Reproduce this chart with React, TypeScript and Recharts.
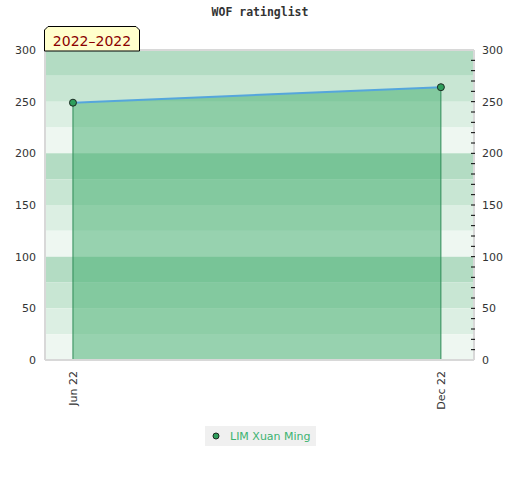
import { ComposedChart, Area, Line, XAxis, YAxis, ReferenceArea, ReferenceLine } from 'recharts'

const months = ['Jun 22', 'Dec 22']
const ratings = [249, 264]
const playerName = 'LIM Xuan Ming'
const periodLabel = '2022–2022'
const chartTitle = 'WOF ratinglist'

const yTicks = [0, 50, 100, 150, 200, 250, 300]
const minorTicks = [0, 10, 20, 30, 40, 50, 60, 70, 80, 90, 100, 110, 120, 130, 140, 150, 160, 170, 180, 190, 200, 210, 220, 230, 240, 250, 260, 270, 280, 290, 300]
const bandEdges = [300, 275, 250, 225, 200, 175, 150, 125, 100, 75, 50, 25, 0]
const bandColors = ['#b3dcc3', '#c8e6d3', '#dcefe3', '#eef7f1']

// month index on a numeric axis, padded so the points sit inside the frame
const xDomain = [-0.076, 1.09]

const data = months.map((m, i) => ({ idx: i, month: m, rating: ratings[i] }))

const axisFont = { fontSize: 11, fill: '#333', fontFamily: 'DejaVu Sans' }

function RotatedTick({ x, y, payload }: any) {
  return (
    <text
      x={x}
      y={y}
      dy={4}
      transform={`rotate(-90 ${x} ${y})`}
      textAnchor="end"
      fontSize={11}
      fontFamily="DejaVu Sans"
      fill="#333"
    >
      {months[payload.value]}
    </text>
  )
}

// right scale: small black marks sitting on the frame, labels every 50
function RightTick({ x, y, payload }: any) {
  const v = payload.value
  return (
    <g>
      {v > 0 && v < 300 && <line x1={x - 11} x2={x - 7} y1={y} y2={y} stroke="#000" strokeWidth={1} />}
      {v % 50 === 0 && (
        <text x={x} y={y} dy={4} textAnchor="start" fontSize={11} fontFamily="DejaVu Sans" fill="#333">
          {v}
        </text>
      )}
    </g>
  )
}

function Dot({ cx, cy }: any) {
  return <circle cx={cx} cy={cy} r={3.5} fill="#2e9e5b" stroke="#1c2a22" strokeWidth={1} />
}

export default function App() {
  return (
    <div style={{ position: 'absolute', left: 0, top: 0, width: 520, height: 480, background: '#fff' }}>
      <div
        style={{
          position: 'absolute',
          top: 5,
          width: 520,
          textAlign: 'center',
          fontFamily: 'DejaVu Sans Mono',
          fontWeight: 'bold',
          fontSize: 11.5,
          color: '#333',
        }}
      >
        {chartTitle}
      </div>
      <ComposedChart
        width={520}
        height={480}
        data={data}
        margin={{ top: 50, right: 0, bottom: 70, left: 0 }}
        style={{ position: 'absolute', left: 0, top: 0 }}
      >
        {bandEdges.slice(1).map((lo, i) => (
          <ReferenceArea
            key={lo}
            yAxisId="left"
            x1={xDomain[0]}
            x2={xDomain[1]}
            y1={lo}
            y2={bandEdges[i]}
            fill={bandColors[i % 4]}
            fillOpacity={1}
            stroke="none"
          />
        ))}
        <ReferenceLine yAxisId="left" y={300} stroke="#d8d8d8" strokeWidth={2} />
        <XAxis
          dataKey="idx"
          type="number"
          domain={xDomain}
          ticks={[0, 1]}
          allowDataOverflow
          axisLine={{ stroke: '#d8d8d8', strokeWidth: 2 }}
          tickLine={false}
          height={50}
          tick={<RotatedTick />}
          tickMargin={11}
          tickSize={0}
          interval={0}
        />
        <YAxis
          yAxisId="left"
          domain={[0, 300]}
          ticks={yTicks}
          width={45}
          axisLine={{ stroke: '#d8d8d8', strokeWidth: 2 }}
          tickLine={false}
          tickSize={4}
          tickMargin={5}
          tick={axisFont}
        />
        <YAxis
          yAxisId="right"
          orientation="right"
          domain={[0, 300]}
          ticks={minorTicks}
          interval={0}
          width={46}
          axisLine={{ stroke: '#d8d8d8', strokeWidth: 2 }}
          tickLine={false}
          tickSize={0}
          tickMargin={8}
          tick={<RightTick />}
        />
        {ratings.map((r, i) => (
          <ReferenceLine
            key={months[i]}
            yAxisId="left"
            segment={[{ x: i, y: 0 }, { x: i, y: r }]}
            stroke="#2e8b57"
            strokeWidth={1}
          />
        ))}
        <Area
          yAxisId="left"
          type="linear"
          dataKey="rating"
          name={playerName}
          stroke="#55a6dc"
          strokeWidth={2}
          fill="#39aa67"
          fillOpacity={0.48}
          dot={<Dot />}
          isAnimationActive={false}
        />
        {/* keeps the right-hand scale alive; draws nothing */}
        <Line
          yAxisId="right"
          dataKey="rating"
          stroke="none"
          dot={false}
          activeDot={false}
          legendType="none"
          isAnimationActive={false}
        />
      </ComposedChart>
      <svg style={{ position: 'absolute', left: 44, top: 26 }} width={98} height={26}>
        <polygon points="0.5,25 0.5,4 4,0.5 92,0.5 95.5,4 95.5,25" fill="#ffffcc" stroke="#000" strokeWidth={1} />
        <text x={48} y={19.5} textAnchor="middle" fontSize={14} fontFamily="DejaVu Sans" fill="#8b0000">
          {periodLabel}
        </text>
      </svg>
      <div
        style={{
          position: 'absolute',
          left: 205,
          top: 426,
          width: 111,
          height: 20,
          background: '#f0f0f0',
          display: 'flex',
          alignItems: 'center',
          fontFamily: 'DejaVu Sans',
          fontSize: 11,
          color: '#3cb371',
        }}
      >
        <svg width={25} height={20}>
          <circle cx={11} cy={10} r={3} fill="#2e9e5b" stroke="#1c2a22" strokeWidth={1} />
        </svg>
        <span>{playerName}</span>
      </div>
    </div>
  )
}
